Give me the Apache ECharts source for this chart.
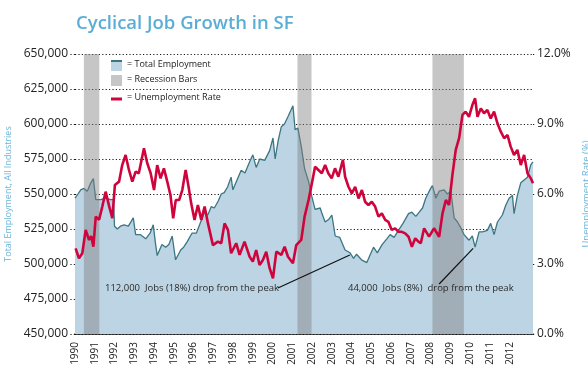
<!DOCTYPE html>
<html lang="en">
<head>
    <meta charset="UTF-8">
    <title>Cyclical Job Growth in SF</title>
</head>
<body>
<div id="main"></div>
</body>

<style type="text/css" media="screen">
    html, body {
        width: 100%;
        height: 100%;
        overflow: hidden;
        margin: 0;
        background: #fff;
        font-family: "Open Sans", sans-serif;
    }

    #main {
        width: 588px;
        height: 377px;
    }
</style>
<script src="https://cdn.jsdelivr.net/npm/echarts@6/dist/echarts.min.js"></script>
<script>
    // total employment, thousands
    var empYears = [1990.00, 1990.15, 1990.29, 1990.45, 1990.62, 1990.80, 1990.93, 1991.05, 1991.30, 1991.55, 1991.80, 1991.95,
        1992.00, 1992.14, 1992.30, 1992.48, 1992.70, 1992.95, 1993.07, 1993.30, 1993.58, 1993.80, 1993.96,
        1994.08, 1994.16, 1994.40, 1994.59, 1994.75, 1994.92, 1995.09, 1995.35, 1995.50, 1995.68, 1995.92,
        1996.14, 1996.39, 1996.55, 1996.72, 1996.90, 1997.05, 1997.25, 1997.40, 1997.55, 1997.72, 1997.90, 1997.99,
        1998.20, 1998.41, 1998.60, 1998.84, 1999.00, 1999.17, 1999.35, 1999.60, 1999.85, 2000.02, 2000.13,
        2000.28, 2000.44, 2000.60, 2000.77, 2001.03, 2001.14, 2001.28, 2001.45, 2001.62, 2001.82, 2001.99,
        2002.15, 2002.41, 2002.50, 2002.66, 2002.85, 2003.00, 2003.17, 2003.40, 2003.67, 2003.92, 2004.10,
        2004.25, 2004.50, 2004.77, 2004.95, 2005.11, 2005.30, 2005.55, 2005.78, 2005.95, 2006.15, 2006.37,
        2006.60, 2006.88, 2007.05, 2007.25, 2007.42, 2007.59, 2007.75, 2008.00, 2008.09, 2008.26, 2008.43,
        2008.68, 2008.85, 2009.02, 2009.19, 2009.36, 2009.52, 2009.69, 2009.94, 2010.11, 2010.25, 2010.45,
        2010.62, 2010.87, 2011.04, 2011.21, 2011.38, 2011.63, 2011.80, 2011.97, 2012.14, 2012.22, 2012.39,
        2012.56, 2012.73, 2012.90, 2013.07, 2013.18];
    var empValues = [547, 550, 553, 554, 552, 558, 561, 546, 546, 547, 546, 546,
        527, 525, 527, 528, 527, 533, 521, 521, 518, 522, 528,
        514, 506, 514, 512, 514, 520, 503, 510, 512, 516, 522,
        522, 531, 537, 535, 541, 540, 545, 550, 551, 555, 562, 553,
        560, 567, 565, 573, 578, 569, 575, 574, 581, 590, 575,
        588, 598, 600, 605, 613, 596, 597, 584, 568, 559, 548,
        539, 540, 536, 530, 532, 535, 520, 519, 510, 508, 504,
        507, 503, 501, 507, 512, 508, 514, 518, 521, 519, 524,
        529, 536, 537, 534, 537, 540, 547, 554, 556, 547, 552,
        553, 550, 552, 533, 530, 526, 521, 517, 520, 512, 523,
        523, 524, 529, 521, 530, 535, 542, 547, 549, 536, 549,
        558, 560, 562, 571, 573];

    // unemployment rate, %
    var rateYears = [1990.03, 1990.20, 1990.37, 1990.54, 1990.71, 1990.82, 1990.93, 1991.05, 1991.22, 1991.38, 1991.55, 1991.72, 1991.89,
        1992.02, 1992.23, 1992.39, 1992.56, 1992.73, 1992.90, 1993.07, 1993.23, 1993.49, 1993.66, 1993.83,
        1994.00, 1994.16, 1994.33, 1994.50, 1994.67, 1994.83, 1994.97, 1995.10, 1995.27, 1995.43, 1995.60, 1995.75, 1995.88,
        1996.05, 1996.22, 1996.39, 1996.56, 1996.73, 1996.98, 1997.23, 1997.40, 1997.57, 1997.74, 1997.90,
        1998.16, 1998.33, 1998.58, 1998.84, 1999.00, 1999.17, 1999.34, 1999.51, 1999.68, 1999.85, 2000.02,
        2000.19, 2000.44, 2000.61, 2000.78, 2001.03, 2001.20, 2001.45, 2001.62, 2001.82, 2001.99,
        2002.15, 2002.32, 2002.49, 2002.66, 2002.82, 2002.99, 2003.16, 2003.33, 2003.56, 2003.67, 2003.84,
        2004.01, 2004.18, 2004.35, 2004.52, 2004.68, 2004.85, 2005.02, 2005.19, 2005.36, 2005.53, 2005.70, 2005.86,
        2006.03, 2006.20, 2006.37, 2006.54, 2006.71, 2006.88, 2007.05, 2007.22, 2007.38, 2007.50, 2007.67, 2007.92,
        2008.17, 2008.43, 2008.60, 2008.77, 2008.93, 2009.10, 2009.27, 2009.44, 2009.61, 2009.77, 2009.94,
        2010.11, 2010.25, 2010.37, 2010.54, 2010.70, 2010.87, 2011.04, 2011.21, 2011.38, 2011.55, 2011.72, 2011.89,
        2012.05, 2012.22, 2012.39, 2012.56, 2012.73, 2012.90, 2013.07, 2013.18];
    var rateValues = [3.67, 3.24, 3.46, 4.46, 4.03, 4.2, 3.74, 5.03, 4.9, 5.46, 6.1, 5.5, 4.96,
        6.39, 6.53, 7.24, 7.67, 7.03, 6.53, 6.96, 6.89, 7.96, 7.31, 6.89,
        6.17, 7.24, 6.67, 7.1, 6.53, 5.96, 4.96, 5.74, 5.74, 6.17, 7.03, 6.3, 5.6,
        4.89, 5.53, 4.89, 5.46, 4.74, 3.81, 3.96, 3.89, 4.74, 4.46, 3.46,
        3.89, 3.39, 3.96, 3.31, 3.1, 3.6, 2.96, 3.17, 3.53, 2.82, 2.39,
        3.53, 3.39, 3.74, 3.31, 3.03, 3.81, 4.03, 5.03, 5.74, 6.46,
        7.17, 7.03, 6.89, 7.24, 6.89, 6.67, 7.1, 6.74, 7.46, 6.74, 6.31,
        6.03, 6.31, 5.81, 6.17, 5.67, 5.53, 5.67, 5.46, 5.03, 5.17, 4.89, 4.81,
        4.46, 4.53, 4.38, 4.38, 4.31, 4.17, 3.74, 4.1, 3.96, 3.89, 4.53, 4.17,
        4.53, 4.17, 5.17, 5.74, 5.53, 6.81, 7.89, 8.39, 9.39, 9.53, 9.31,
        9.81, 10.1, 9.31, 9.67, 9.46, 9.6, 9.24, 9.53, 9.03, 8.67, 8.39, 8.53,
        8.03, 7.67, 7.89, 7.24, 7.67, 6.89, 6.67, 6.46];

    // recession start / end (decimal years)
    var recessions = [[1990.45, 1991.23], [2001.26, 2001.97], [2008.09, 2009.68]];

    // annotation leader lines: [from year, from jobs], [to year, to jobs]
    var notes = [
        {text: '112,000  Jobs (18%) drop from the peak', from: [2000.27, 482.9], to: [2003.91, 506.4]},
        {text: '44,000  Jobs (8%)  drop from the peak', from: [2008.43, 485.7], to: [2010.15, 511.2]}
    ];

    var leftTicks = [450, 475, 500, 525, 550, 575, 600, 625, 650];
    var rightTicks = [0, 3, 6, 9, 12];

    var dotted = {color: '#1a1a1a', width: 1.2, type: [1.2, 2.2]};

    var myChart = echarts.init(document.getElementById('main'));

    var empData = empYears.map(function (y, i) {
        return [y, empValues[i]];
    });
    var rateData = rateYears.map(function (y, i) {
        return [y, rateValues[i]];
    });

    option = {
        animation: false,
        textStyle: {fontFamily: 'Open Sans'},
        title: {
            text: 'Cyclical Job Growth in SF',
            left: 71,
            top: 9,
            textStyle: {color: '#5aaed5', fontSize: 18.5, fontWeight: 600, fontFamily: 'Open Sans'}
        },
        grid: {left: 75, right: 55, top: 54, bottom: 43, containLabel: false, outerBoundsMode: 'none'},
        xAxis: {
            type: 'value',
            min: 1990,
            max: 2013.18,
            interval: 1,
            splitLine: {show: false},
            axisTick: {show: false},
            axisLine: {onZero: false, lineStyle: {color: '#111', width: 1.5}},
            axisLabel: {
                rotate: 90,
                fontSize: 10,
                color: '#222',
                margin: 8,
                showMaxLabel: false,
                formatter: function (v) {
                    return v < 2013 ? String(v) : '';
                }
            }
        },
        yAxis: [{
            type: 'value',
            min: leftTicks[0],
            max: leftTicks[leftTicks.length - 1],
            interval: 25,
            name: 'Total Employment, All Industries',
            nameLocation: 'middle',
            nameGap: 62,
            nameTextStyle: {color: '#6cb5d8', fontSize: 9},
            axisLine: {show: false},
            axisTick: {show: true, length: 5, lineStyle: dotted},
            splitLine: {show: true, lineStyle: dotted},
            axisLabel: {
                fontSize: 12,
                color: '#222',
                margin: 7,
                formatter: function (v) {
                    return v + ',000';
                }
            }
        }, {
            type: 'value',
            position: 'right',
            min: rightTicks[0],
            max: rightTicks[rightTicks.length - 1],
            interval: 3,
            name: 'Unemployment Rate (%)',
            nameLocation: 'middle',
            nameGap: 31,
            nameRotate: 90,
            nameTextStyle: {color: '#6cb5d8', fontSize: 9.5},
            axisLine: {show: false},
            axisTick: {show: true, length: 3, lineStyle: dotted},
            splitLine: {show: false},
            axisLabel: {
                fontSize: 12,
                color: '#222',
                margin: 4,
                formatter: function (v) {
                    return v.toFixed(1) + '%';
                }
            }
        }],
        graphic: [
            // legend
            {type: 'rect', left: 111, top: 60, z: 20, shape: {width: 11, height: 11}, style: {fill: '#bcd4e3'}},
            {type: 'rect', left: 111, top: 60, z: 21, shape: {width: 11, height: 2}, style: {fill: '#3b7682'}},
            {type: 'text', left: 127, top: 60, z: 20, style: {text: '= Total Employment', fontSize: 9, fill: '#222', fontFamily: 'Open Sans'}},
            {type: 'rect', left: 111, top: 75, z: 20, shape: {width: 11, height: 11}, style: {fill: '#c6c6c6'}},
            {type: 'text', left: 127, top: 75, z: 20, style: {text: '= Recession Bars', fontSize: 9, fill: '#222', fontFamily: 'Open Sans'}},
            {type: 'rect', left: 111, top: 97.5, z: 20, shape: {width: 11, height: 3}, style: {fill: '#d0043c'}},
            {type: 'text', left: 127, top: 93, z: 20, style: {text: '= Unemployment Rate', fontSize: 9, fill: '#222', fontFamily: 'Open Sans'}},
            // annotation texts
            {type: 'text', right: 588 - 279, top: 283, z: 20, style: {text: notes[0].text, fontSize: 9.5, fill: '#2a2a2a', fontFamily: 'Open Sans'}},
            {type: 'text', left: 348, top: 283, z: 20, style: {text: notes[1].text, fontSize: 9.5, fill: '#2a2a2a', fontFamily: 'Open Sans'}}
        ],
        series: [{
            name: 'Total Employment',
            type: 'line',
            yAxisIndex: 0,
            z: 1,
            symbol: 'none',
            data: empData,
            lineStyle: {color: '#3b7682', width: 1.3},
            areaStyle: {color: '#bcd4e3', opacity: 1, origin: 'start'},
            markLine: {
                silent: true,
                symbol: 'none',
                label: {show: false},
                lineStyle: {color: '#111', width: 1.2, type: 'solid'},
                z: 6,
                data: notes.map(function (n) {
                    return [{coord: n.from}, {coord: n.to}];
                })
            }
        }, {
            name: 'Recession Bars',
            type: 'line',
            yAxisIndex: 0,
            z: 3,
            data: [],
            markArea: {
                silent: true,
                z: 3,
                itemStyle: {color: 'rgba(128,128,128,0.45)'},
                data: recessions.map(function (r) {
                    return [{xAxis: r[0]}, {xAxis: r[1]}];
                })
            }
        }, {
            name: 'Unemployment Rate',
            type: 'line',
            yAxisIndex: 1,
            z: 5,
            symbol: 'none',
            data: rateData,
            lineStyle: {color: '#d0043c', width: 2.6}
        }]
    };
    myChart.setOption(option);
</script>
</html>
